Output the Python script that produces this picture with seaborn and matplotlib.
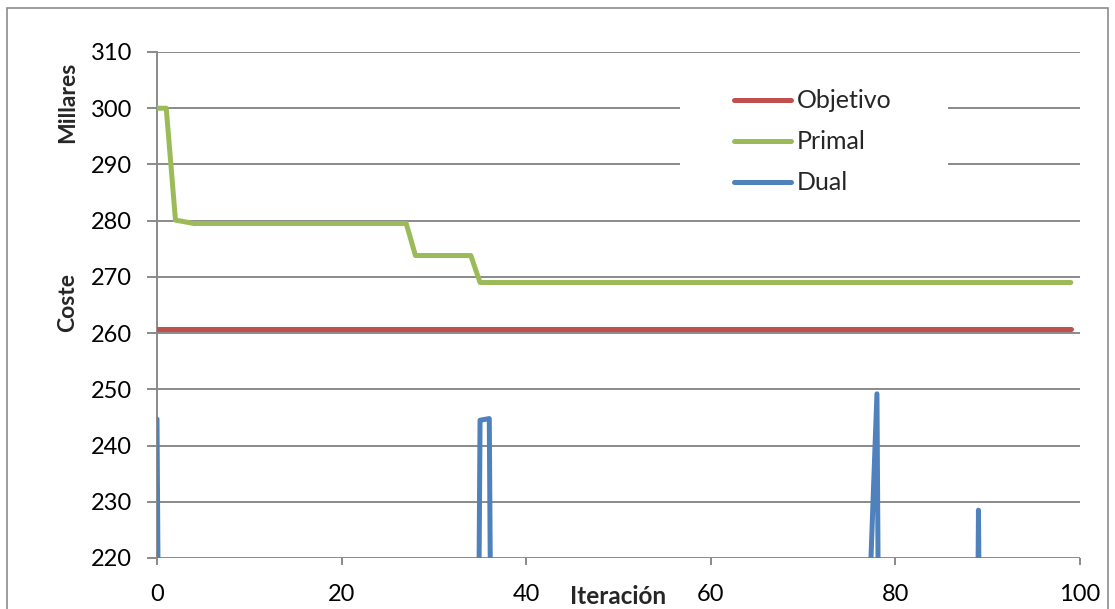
import matplotlib
matplotlib.use("Agg")
import matplotlib.pyplot as plt
from matplotlib.patches import Rectangle
import numpy as np
import pandas as pd
import seaborn as sns

# Iteration index and the three cost series (in thousands)
iterations = list(range(100))

objetivo = [
    260.8, 260.8, 260.8, 260.8, 260.8, 260.8, 260.8, 260.8, 260.8, 260.8,
    260.8, 260.8, 260.8, 260.8, 260.8, 260.8, 260.8, 260.8, 260.8, 260.8,
    260.8, 260.8, 260.8, 260.8, 260.8, 260.8, 260.8, 260.8, 260.8, 260.8,
    260.8, 260.8, 260.8, 260.8, 260.8, 260.8, 260.8, 260.8, 260.8, 260.8,
    260.8, 260.8, 260.8, 260.8, 260.8, 260.8, 260.8, 260.8, 260.8, 260.8,
    260.8, 260.8, 260.8, 260.8, 260.8, 260.8, 260.8, 260.8, 260.8, 260.8,
    260.8, 260.8, 260.8, 260.8, 260.8, 260.8, 260.8, 260.8, 260.8, 260.8,
    260.8, 260.8, 260.8, 260.8, 260.8, 260.8, 260.8, 260.8, 260.8, 260.8,
    260.8, 260.8, 260.8, 260.8, 260.8, 260.8, 260.8, 260.8, 260.8, 260.8,
    260.8, 260.8, 260.8, 260.8, 260.8, 260.8, 260.8, 260.8, 260.8, 260.8,
]

primal = [
    300.0, 300.0, 280.1, 279.8, 279.5, 279.5, 279.5, 279.5, 279.5, 279.5,
    279.5, 279.5, 279.5, 279.5, 279.5, 279.5, 279.5, 279.5, 279.5, 279.5,
    279.5, 279.5, 279.5, 279.5, 279.5, 279.5, 279.5, 279.5, 273.8, 273.8,
    273.8, 273.8, 273.8, 273.8, 273.8, 269.0, 269.0, 269.0, 269.0, 269.0,
    269.0, 269.0, 269.0, 269.0, 269.0, 269.0, 269.0, 269.0, 269.0, 269.0,
    269.0, 269.0, 269.0, 269.0, 269.0, 269.0, 269.0, 269.0, 269.0, 269.0,
    269.0, 269.0, 269.0, 269.0, 269.0, 269.0, 269.0, 269.0, 269.0, 269.0,
    269.0, 269.0, 269.0, 269.0, 269.0, 269.0, 269.0, 269.0, 269.0, 269.0,
    269.0, 269.0, 269.0, 269.0, 269.0, 269.0, 269.0, 269.0, 269.0, 269.0,
    269.0, 269.0, 269.0, 269.0, 269.0, 269.0, 269.0, 269.0, 269.0, 269.0,
]

dual = [
    244.7, 0.0, 0.0, 0.0, 0.0, 0.0, 0.0, 0.0, 0.0, 0.0,
    0.0, 0.0, 0.0, 0.0, 0.0, 0.0, 0.0, 0.0, 0.0, 0.0,
    0.0, 0.0, 0.0, 0.0, 0.0, 0.0, 0.0, 0.0, 0.0, 0.0,
    0.0, 0.0, 0.0, 0.0, 0.0, 244.5, 244.8, 0.0, 0.0, 0.0,
    0.0, 0.0, 0.0, 0.0, 0.0, 0.0, 0.0, 0.0, 0.0, 0.0,
    0.0, 0.0, 0.0, 0.0, 0.0, 0.0, 0.0, 0.0, 0.0, 0.0,
    0.0, 0.0, 0.0, 0.0, 0.0, 0.0, 0.0, 0.0, 0.0, 0.0,
    0.0, 0.0, 0.0, 0.0, 0.0, 0.0, 0.0, 204.0, 249.2, 0.0,
    0.0, 0.0, 0.0, 0.0, 0.0, 0.0, 0.0, 0.0, 0.0, 228.5,
    0.0, 0.0, 0.0, 0.0, 0.0, 0.0, 0.0, 0.0, 0.0, 0.0,
]

series_names = ["Objetivo", "Primal", "Dual"]
series_colors = ["#C0504D", "#9BBB59", "#4F81BD"]
x_ticks = [0, 20, 40, 60, 80, 100]
y_ticks = [220, 230, 240, 250, 260, 270, 280, 290, 300, 310]

df = pd.DataFrame({
    "Iteración": iterations * 3,
    "Coste": objetivo + primal + dual,
    "Serie": [s for s in series_names for _ in iterations],
})

sns.set_theme(style="white")
plt.rcParams["font.family"] = ["Lato", "DejaVu Sans"]

fig = plt.figure(figsize=(11.15, 6.09), dpi=100)
ax = fig.add_axes([157 / 1115, 1 - 558 / 609, 923 / 1115, 506 / 609])

grid_color = "#8A8A8A"
ax.set_axisbelow(True)
ax.yaxis.grid(True, color=grid_color, linewidth=1.4)
ax.xaxis.grid(False)

sns.lineplot(
    data=df, x="Iteración", y="Coste", hue="Serie",
    hue_order=series_names, palette=series_colors,
    linewidth=3.6, ax=ax, legend=False, zorder=3,
    solid_capstyle="round", solid_joinstyle="round",
)

ax.set_xlim(0, 100)
ax.set_ylim(220, 310)
ax.set_xticks(x_ticks)
ax.set_yticks(y_ticks)
ax.set_xlabel("")
ax.set_ylabel("")

for side in ["top", "right", "bottom"]:
    ax.spines[side].set_visible(False)
ax.spines["left"].set_color(grid_color)
ax.spines["left"].set_linewidth(1.4)

ax.tick_params(axis="y", which="major", direction="out", length=7,
               width=1.4, color=grid_color, left=True, pad=11,
               labelsize=17, labelcolor="black")
ax.tick_params(axis="x", which="major", direction="out", length=5,
               width=1.4, color=grid_color, bottom=True, pad=13.5,
               labelsize=17, labelcolor="black")

# White panel behind the legend that hides the gridlines there
ax.add_patch(Rectangle((0.5666, 0.705), 0.2904, 0.244, transform=ax.transAxes,
                       facecolor="white", edgecolor="none", zorder=1))

handles = [plt.Line2D([], [], color=c, linewidth=3.6, solid_capstyle="round")
           for c in series_colors]
ax.legend(handles, series_names, loc="upper left",
          bbox_to_anchor=(0.625, 0.926), frameon=False, fontsize=18,
          handlelength=2.3, handletextpad=0.2, labelspacing=0.72,
          borderpad=0, borderaxespad=0)

# Axis titles
fig.text(68 / 1115, 1 - 102 / 609, "Millares", rotation=90, ha="center",
         va="center", fontsize=16.5, fontweight="bold")
fig.text(68 / 1115, 1 - 303 / 609, "Coste", rotation=90, ha="center",
         va="center", fontsize=16.5, fontweight="bold")
fig.text(618 / 1115, 1 - 597 / 609, "Iteración", ha="center", va="center",
         fontsize=17.5, fontweight="bold")

# Chart-area border
fig.add_artist(Rectangle((7 / 1115, -0.1), 1101 / 1115, 1.1 - 8 / 609,
                         transform=fig.transFigure, facecolor="none",
                         edgecolor="#8C8C8C", linewidth=1.2))

fig.savefig("out.png", dpi=100)
